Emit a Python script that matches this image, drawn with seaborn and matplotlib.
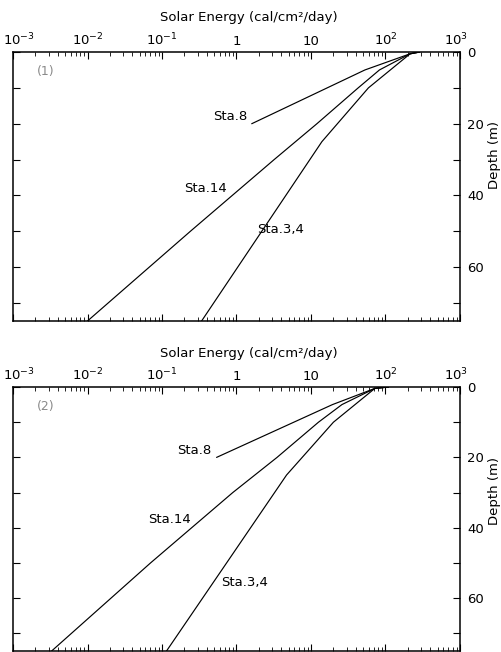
import matplotlib
matplotlib.use("Agg")
import matplotlib.pyplot as plt
import matplotlib.ticker as mticker
import matplotlib.transforms as mtransforms
import pandas as pd
import seaborn as sns

# Depth (m) at which the light was given for each station
depth_sta8 = [0, 0.5, 5, 20]
depth_sta14 = [0, 0.5, 5, 10, 20, 30, 50, 75]
depth_sta34 = [0, 0.5, 10, 25, 75]

# Panel (1): solar energy (cal/cm2/day)
p1_sta8 = [288, 214, 53, 1.6]
p1_sta14 = [288, 214, 83, 43, 12, 3.2, 0.24, 0.01]
p1_sta34 = [288, 214, 59, 14, 0.34]

# Panel (2): solar energy (cal/cm2/day)
depth2_sta8 = [0, 0.4, 5, 20]
depth2_sta14 = [0, 0.4, 5, 10, 20, 30, 50, 75]
depth2_sta34 = [0, 0.4, 10, 25, 75]
p2_sta8 = [110, 72, 19.4, 0.54]
p2_sta14 = [110, 72, 26, 12.6, 3.5, 0.89, 0.07, 0.0033]
p2_sta34 = [110, 72, 20, 4.7, 0.115]

stations = ["Sta.8", "Sta.14", "Sta.3,4"]
panel_names = ["(1)", "(2)"]
x_ticks = [1e-3, 1e-2, 1e-1, 1, 10, 1e2, 1e3]
x_tick_labels = ["$10^{-3}$", "$10^{-2}$", "$10^{-1}$", "1", "10", "$10^{2}$", "$10^{3}$"]
depth_major = [0, 20, 40, 60]
depth_minor = [10, 30, 50, 70]
title = "Solar Energy (cal/cm\u00b2/day)"
ylabel = "Depth (m)"


def long_frame(depths, values):
    rows = []
    for name, d, v in zip(stations, depths, values):
        for dd, vv in zip(d, v):
            rows.append({"station": name, "depth": dd, "energy": vv})
    return pd.DataFrame(rows)


df1 = long_frame([depth_sta8, depth_sta14, depth_sta34], [p1_sta8, p1_sta14, p1_sta34])
df2 = long_frame([depth2_sta8, depth2_sta14, depth2_sta34], [p2_sta8, p2_sta14, p2_sta34])

sns.set_style("ticks")
plt.rcParams["font.family"] = ["DejaVu Sans"]
plt.rcParams["mathtext.default"] = "regular"
plt.rcParams["font.size"] = 9.5
plt.rcParams["text.color"] = "black"
plt.rcParams["xtick.color"] = "black"
plt.rcParams["ytick.color"] = "black"
plt.rcParams["xtick.labelcolor"] = "black"
plt.rcParams["ytick.labelcolor"] = "black"

W, H = 502, 652
fig = plt.figure(figsize=(W / 100, H / 100), dpi=100)

# axes boxes in pixels: left, top, right, bottom
boxes = [(13, 52, 460, 321), (13, 387, 460, 651)]
title_y = [17, 353]

# label placements (energy, depth) per panel
label_pos = [
    {"Sta.8": (0.82, 18), "Sta.14": (0.38, 38), "Sta.3,4": (3.95, 49.6)},
    {"Sta.8": (0.27, 18), "Sta.14": (0.128, 37.7), "Sta.3,4": (1.3, 55.5)},
]
depth_label_y = [0.617, 0.606]

for i, df in enumerate([df1, df2]):
    l, t, r, b = boxes[i]
    ax = fig.add_axes([l / W, 1 - b / H, (r - l) / W, (b - t) / H])
    sns.lineplot(data=df, x="energy", y="depth", units="station", estimator=None,
                 sort=False, color="black", linewidth=0.85, ax=ax, legend=False)
    ax.set_xscale("log")
    ax.set_xlim(1e-3, 1e3)
    ax.set_ylim(75, 0)

    ax.xaxis.set_major_locator(mticker.FixedLocator(x_ticks))
    ax.xaxis.set_major_formatter(mticker.FixedFormatter(x_tick_labels))
    ax.xaxis.set_minor_locator(mticker.LogLocator(base=10, subs=range(2, 10), numticks=20))
    ax.xaxis.set_minor_formatter(mticker.NullFormatter())
    ax.xaxis.set_ticks_position("both")
    ax.tick_params(axis="x", which="both", direction="in", labeltop=True, labelbottom=False)
    ax.tick_params(axis="x", which="major", length=5, width=0.8, pad=3)
    ax.tick_params(axis="x", which="minor", length=3, width=0.6)

    ax.yaxis.set_major_locator(mticker.FixedLocator(depth_major))
    ax.yaxis.set_minor_locator(mticker.FixedLocator(depth_minor))
    ax.yaxis.set_ticks_position("both")
    ax.tick_params(axis="y", which="both", direction="in", length=5, width=0.8,
                   labelleft=False, labelright=True, pad=5)

    # nudge the end labels of the energy axis so they stay inside the figure
    ticks = ax.xaxis.get_major_ticks()
    shift_first = mtransforms.ScaledTranslation(6 / 100, 0, fig.dpi_scale_trans)
    shift_last = mtransforms.ScaledTranslation(-4 / 100, 0, fig.dpi_scale_trans)
    ticks[0].label2.set_transform(ticks[0].label2.get_transform() + shift_first)
    ticks[-1].label2.set_transform(ticks[-1].label2.get_transform() + shift_last)

    for s in ax.spines.values():
        s.set_visible(True)
        s.set_linewidth(1.1)
        s.set_color("black")

    ax.set_xlabel("")
    ax.set_ylabel("")
    ax.text(1.078, depth_label_y[i], ylabel, rotation=90, ha="center", va="center",
            transform=ax.transAxes, fontsize=9.5)
    ax.text(0.074, 0.928, panel_names[i], ha="center", va="center", color="#8a8a8a",
            transform=ax.transAxes, fontsize=9)
    for name in stations:
        x, y = label_pos[i][name]
        ax.text(x, y, name, ha="center", va="center", fontsize=9.5)

    fig.text(249 / W, 1 - title_y[i] / H, title, ha="center", va="center", fontsize=9.5)

fig.savefig("out.png", dpi=100)
